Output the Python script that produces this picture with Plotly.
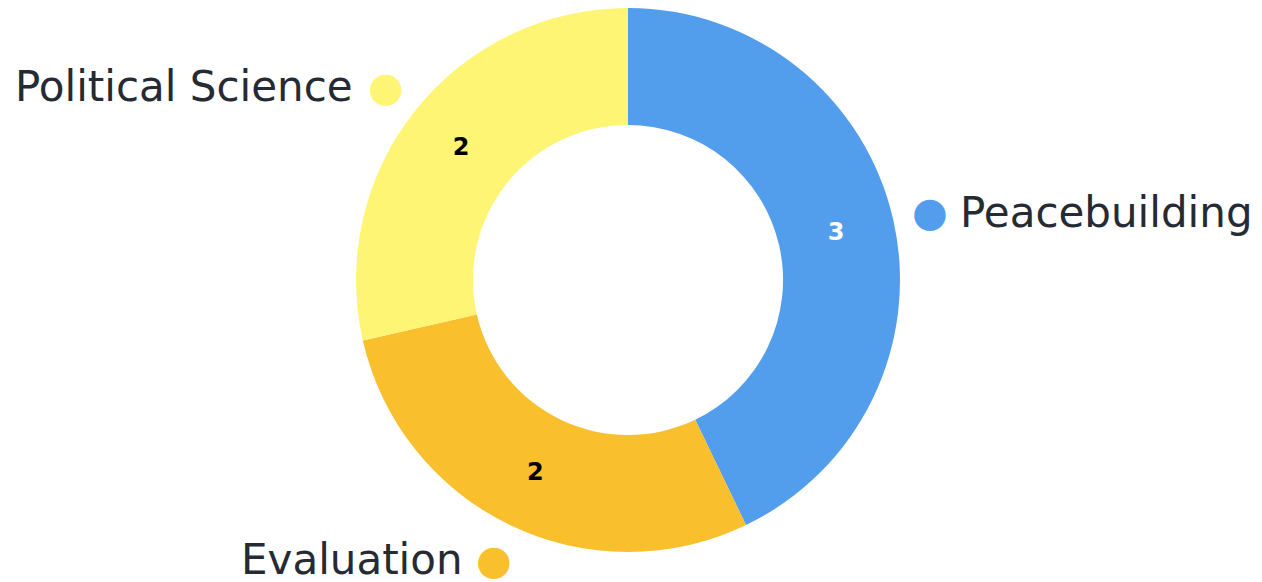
import plotly.graph_objects as go

categories = ["Peacebuilding", "Evaluation", "Political Science"]
values = [3, 2, 2]
colors = ["#529DEC", "#F9BF2D", "#FFF574"]
text_colors = ["#FFFFFF", "#000000", "#000000"]

fig = go.Figure(go.Pie(
    labels=categories,
    values=values,
    sort=False,
    direction="clockwise",
    rotation=0,
    hole=0.57,
    marker=dict(colors=colors, line=dict(width=0)),
    textinfo="value",
    textposition="inside",
    insidetextorientation="horizontal",
    textfont=dict(family="DejaVu Sans", size=24, color=text_colors, weight="bold"),
    showlegend=False,
))

label_font = dict(family="DejaVu Sans", size=42, color="#252A33")
dot_size = 41

# (text x, dot x, y, anchor side)
label_pos = {
    "Peacebuilding": (0.7661, 0.7435, 0.625, "left"),
    "Evaluation": (0.3685, 0.3919, -0.0147, "right"),
    "Political Science": (0.2798, 0.3048, 0.8548, "right"),
}

for cat, col in zip(categories, colors):
    tx, dx, y, side = label_pos[cat]
    fig.add_annotation(x=tx, y=y, xref="paper", yref="paper", xanchor=side, yanchor="middle",
                       text=cat, showarrow=False, font=label_font)
    fig.add_annotation(x=dx, y=y, xref="paper", yref="paper", xanchor="center", yanchor="middle",
                       text="●", showarrow=False,
                       font=dict(family="DejaVu Sans", size=dot_size, color=col))

fig.update_layout(
    width=1262, height=582,
    margin=dict(l=0, r=22, t=0, b=38),
    paper_bgcolor="white",
    plot_bgcolor="white",
)

fig.write_html("out.html")
